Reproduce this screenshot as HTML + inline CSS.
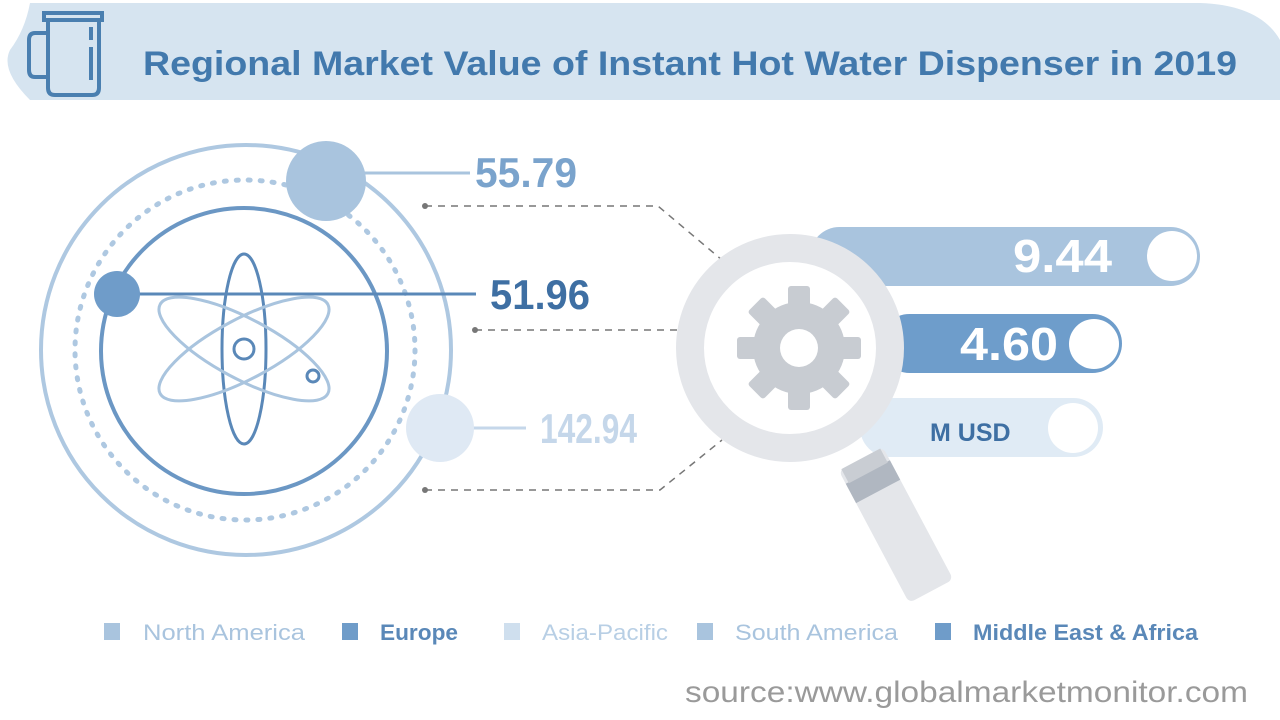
<!DOCTYPE html>
<html><head><meta charset="utf-8"><style>
html,body{margin:0;padding:0;background:#fff;width:1280px;height:720px;overflow:hidden}
svg{display:block}
.num{font-family:"Liberation Sans Narrow","Liberation Sans",sans-serif;font-weight:bold}
.t{font-family:"Liberation Sans",sans-serif}
</style></head><body>
<svg width="1280" height="720" viewBox="0 0 1280 720" xmlns="http://www.w3.org/2000/svg">
<path d="M30 3 L1200 3 Q1260 5 1280 40 L1280 100 L30 100 Q0 70 10 50 Q25 30 30 3 Z" fill="#d6e4f0"/>
<g fill="none" stroke="#4a7fb0" stroke-width="4">
<rect x="44" y="13" width="58" height="7" fill="#d6e4f0"/>
<path d="M48 20 L48 88 Q48 95 55 95 L92 95 Q99 95 99 88 L99 20"/>
<path d="M48 33 L35 33 Q29 33 29 40 L29 70 Q29 77 35 77 L48 77"/>
<path d="M91 27 L91 40 M91 47 L91 80"/>
</g>
<text x="143" y="75" class="t" font-size="34" font-weight="bold" fill="#4279ad" textLength="1094" lengthAdjust="spacingAndGlyphs">Regional Market Value of Instant Hot Water Dispenser in 2019</text>

<circle cx="246" cy="350" r="205" fill="none" stroke="#aec8e1" stroke-width="4"/>
<circle cx="245" cy="350" r="170" fill="none" stroke="#aec8e1" stroke-width="5" stroke-dasharray="2 10" stroke-linecap="round"/>
<circle cx="244" cy="351" r="143" fill="none" stroke="#6b97c4" stroke-width="4"/>
<g fill="none" stroke-width="3">
<ellipse cx="244" cy="349" rx="22" ry="95" stroke="#5a88b8"/>
<ellipse cx="244" cy="349" rx="95" ry="30" transform="rotate(28 244 349)" stroke="#a9c4de"/>
<ellipse cx="244" cy="349" rx="95" ry="30" transform="rotate(-28 244 349)" stroke="#a9c4de"/>
<circle cx="244" cy="349" r="10" stroke="#5a88b8"/>
<circle cx="313" cy="376" r="6" stroke="#5a88b8"/>
</g>

<line x1="360" y1="173" x2="470" y2="173" stroke="#a9c4de" stroke-width="3"/>
<circle cx="326" cy="181" r="40" fill="#a9c4de"/>
<text x="475" y="187" class="num" font-size="42" fill="#7aa3cc" textLength="102" lengthAdjust="spacingAndGlyphs">55.79</text>
<line x1="117" y1="294" x2="476" y2="294" stroke="#5a88b8" stroke-width="3"/>
<circle cx="117" cy="294" r="23" fill="#6f9cc9"/>
<text x="490" y="309" class="num" font-size="42" fill="#3e6fa3" textLength="100" lengthAdjust="spacingAndGlyphs">51.96</text>
<line x1="470" y1="428" x2="526" y2="428" stroke="#c5d7ea" stroke-width="3"/>
<circle cx="440" cy="428" r="34" fill="#dfe9f4"/>
<text x="540" y="443" class="num" font-size="42" fill="#c5d7ea" textLength="97" lengthAdjust="spacingAndGlyphs">142.94</text>

<g fill="none" stroke="#777" stroke-width="1.5" stroke-dasharray="7 6">
<path d="M425 206 L658 206 L722 260"/>
<path d="M475 330 L682 330"/>
<path d="M425 490 L660 490 L722 440"/>
</g>
<g fill="#777"><circle cx="425" cy="206" r="3"/><circle cx="475" cy="330" r="3"/><circle cx="425" cy="490" r="3"/></g>

<rect x="810" y="227" width="390" height="59" rx="29.5" fill="#a9c4de"/>
<circle cx="1172" cy="256" r="25" fill="#fff"/>
<text x="1013" y="272" class="num" font-size="46" fill="#fff" textLength="99" lengthAdjust="spacingAndGlyphs">9.44</text>
<rect x="880" y="314" width="242" height="59" rx="29.5" fill="#6e9dcb"/>
<circle cx="1094" cy="344" r="25" fill="#fff"/>
<text x="960" y="360" class="num" font-size="46" fill="#fff" textLength="98" lengthAdjust="spacingAndGlyphs">4.60</text>
<rect x="860" y="398" width="243" height="59" rx="29.5" fill="#e0ebf5"/>
<circle cx="1073" cy="428" r="25" fill="#fff"/>
<text x="930" y="441" class="t" font-size="25" font-weight="bold" fill="#3e6fa3">M USD</text>

<g transform="rotate(-28 896 525)">
<rect x="871" y="450" width="50" height="150" rx="6" fill="#e4e6ea"/>
<rect x="871" y="465" width="50" height="22" fill="#b0b7c1"/>
<rect x="874" y="450" width="44" height="16" fill="#c9cdd3"/>
</g>
<circle cx="790" cy="348" r="100" fill="#fff" stroke="#e4e6ea" stroke-width="28"/>
<g fill="#c8ccd2" transform="translate(799 348)">
<rect id="tooth" x="-11" y="-62" width="22" height="24" rx="3"/>
<use href="#tooth" transform="rotate(45)"/><use href="#tooth" transform="rotate(90)"/><use href="#tooth" transform="rotate(135)"/>
<use href="#tooth" transform="rotate(180)"/><use href="#tooth" transform="rotate(225)"/><use href="#tooth" transform="rotate(270)"/><use href="#tooth" transform="rotate(315)"/>
<circle r="46"/>
<circle r="19" fill="#fff"/>
</g>

<g class="t" font-size="22">
<rect x="104" y="623" width="16" height="17" fill="#a9c4de"/><text x="143" y="640" fill="#a9c4de" textLength="162" lengthAdjust="spacingAndGlyphs">North America</text>
<rect x="342" y="623" width="16" height="17" fill="#6f9cc9"/><text x="380" y="640" fill="#5a88b8" font-weight="bold" textLength="78" lengthAdjust="spacingAndGlyphs">Europe</text>
<rect x="504" y="623" width="16" height="17" fill="#cfdfee"/><text x="542" y="640" fill="#b8cfe5" textLength="126" lengthAdjust="spacingAndGlyphs">Asia-Pacific</text>
<rect x="697" y="623" width="16" height="17" fill="#a9c4de"/><text x="735" y="640" fill="#a9c4de" textLength="163" lengthAdjust="spacingAndGlyphs">South America</text>
<rect x="935" y="623" width="16" height="17" fill="#6f9cc9"/><text x="973" y="640" fill="#5a88b8" font-weight="bold" textLength="225" lengthAdjust="spacingAndGlyphs">Middle East &amp; Africa</text>
</g>
<text x="685" y="702" class="t" font-size="30" fill="#9a9a9a" textLength="563" lengthAdjust="spacingAndGlyphs">source:www.globalmarketmonitor.com</text>
</svg>
</body></html>
